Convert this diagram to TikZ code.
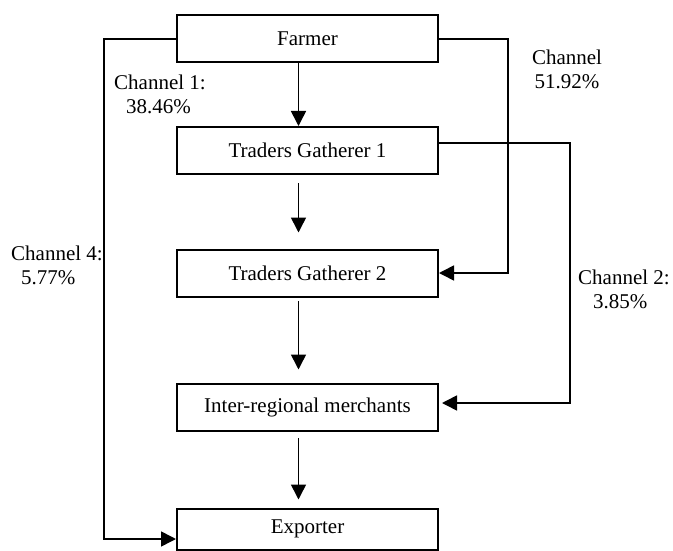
\documentclass[tikz,border=0pt]{standalone}
\usepackage{fontspec}
\setmainfont{Liberation Serif}
\usetikzlibrary{arrows.meta}

\begin{document}
\begin{tikzpicture}[x=1pt, y=-1pt, font=\fontsize{21}{24}\selectfont,
  box/.style={draw, line width=2pt, minimum width=261pt, minimum height=47pt, inner sep=0pt},
  arr/.style={line width=1.6pt, -{Triangle[length=15pt, width=15pt]}},
  lbl/.style={align=left, inner sep=0pt}]

\useasboundingbox (0,0) rectangle (673,551);

\node[box] (farmer) at (307.5,39) {Farmer};
\node[box] (tg1) at (307.5,150.5) {Traders Gatherer 1};
\node[box] (tg2) at (307.5,273) {Traders Gatherer 2};
\node[box] (irm) at (307.5,407) {Inter-regional merchants};
\node[box, minimum height=41pt] (exp) at (307.5,529) {Exporter};

\draw[arr] ([xshift=-9pt]farmer.south) -- ([xshift=-9pt]tg1.north);
\draw[arr, shorten <=8pt, shorten >=16pt] ([xshift=-9pt]tg1.south) -- ([xshift=-9pt]tg2.north);
\draw[arr, shorten <=3.5pt, shorten >=13pt] ([xshift=-9pt]tg2.south) -- ([xshift=-9pt]irm.north);
\draw[arr, shorten <=6.5pt, shorten >=8pt] ([xshift=-9pt]irm.south) -- ([xshift=-9pt]exp.north);

\draw[arr] (farmer.west) -- ++(-72,0) |- ([yshift=-10pt]exp.west);
\draw[arr] (farmer.east) -- ++(69,0) |- (tg2.east);
\draw[arr, shorten >=3pt] ([yshift=7.5pt]tg1.east) -- ++(131,0) |- ([yshift=4pt]irm.east);

\node[lbl, anchor=west] (ch1) at (114,94) {Channel 1:\\\hspace*{12pt}38.46\%};
\node[lbl, anchor=west] (ch4) at (11,265) {Channel 4:\\\hspace*{10pt}5.77\%};
\node[lbl, anchor=west] (ch2) at (578,289) {Channel 2:\\\hspace*{15pt}3.85\%};
\node[align=center, inner sep=0pt] (ch3) at (567,69.5) {Channel\\51.92\%};

\end{tikzpicture}
\end{document}
